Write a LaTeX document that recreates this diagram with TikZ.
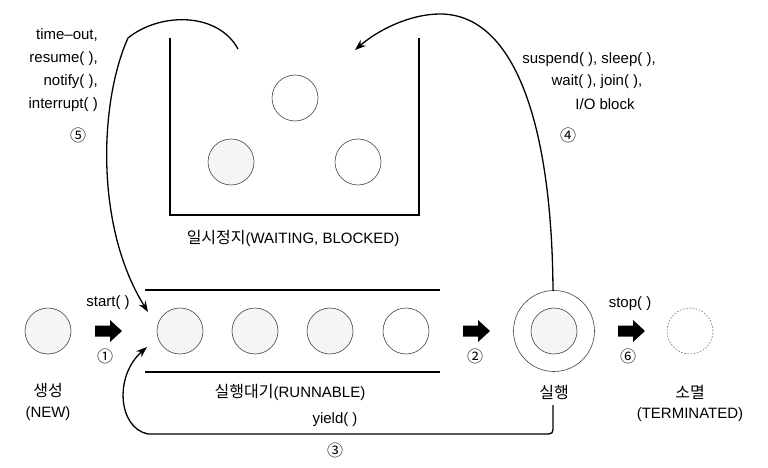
\documentclass[tikz,border=0pt]{standalone}
\usepackage{fontspec}
\setmainfont{Liberation Sans}
\newfontfamily\kr{Noto Sans CJK KR}
\usetikzlibrary{arrows.meta}
\newcommand\blockarr[2]{\fill[black] (#1) ++(-13,-5.5) -- ++(15,0) -- ++(0,-5.5) -- ++(12,11) -- ++(-12,11) -- ++(0,-5.5) -- ++(-15,0) -- cycle; \coordinate (#2) at (#1);}
\begin{document}
\begin{tikzpicture}[x=1pt,y=-1pt,
  lat/.style={font=\fontsize{15}{23}\selectfont, inner sep=0pt},
  kor/.style={font=\kr\fontsize{16}{23}\selectfont, inner sep=0pt},
  num/.style={font=\kr\fontsize{16}{18}\selectfont, inner sep=0pt},
  thr/.style={circle, draw=black!75, line width=0.6pt, minimum size=46pt, inner sep=0pt},
  shaded/.style={fill=black!4},
  flow/.style={line width=1.3pt, -{Stealth[length=11pt,width=8pt]}},
  wall/.style={line width=1.5pt},
  rail/.style={line width=1.8pt}]
\useasboundingbox (0,0) rectangle (768,468);
% waiting box
\coordinate (wtl) at (170,38);
\coordinate (wbl) at (170,215);
\coordinate (wbr) at (419,215);
\coordinate (wtr) at (419,38);
\draw[wall] (wtl) -- (wbl) -- (wbr) -- (wtr);
\node[thr] (w1) at (295,98) {};
\node[thr,shaded] (w2) at (231,162) {};
\node[thr] (w3) at (358,162) {};
\node[lat] (lwait) at (293,238) {{\kr\fontsize{16}{23}\selectfont 일시정지}(WAITING, BLOCKED)};
% runnable
\coordinate (rtl) at (145,290); \coordinate (rtr) at (440,290);
\coordinate (rbl) at (145,372); \coordinate (rbr) at (440,372);
\draw[rail] (rtl) -- (rtr);
\draw[rail] (rbl) -- (rbr);
\node[thr,shaded] (r1) at (180,331) {};
\node[thr,shaded] (r2) at (255,331) {};
\node[thr,shaded] (r3) at (330,331) {};
\node[thr] (r4) at (406,331) {};
\node[lat] (lrunnable) at (290,392) {{\kr\fontsize{16}{23}\selectfont 실행대기}(RUNNABLE)};
% new
\node[thr,shaded] (new) at (48,331) {};
\node[kor] (lnew) at (48,390) {생성};
\node[lat] (lnew2) at (48,414) {(NEW)};
% running
\node[thr,minimum size=81pt] (run) at (554,331) {};
\node[thr,shaded] (runin) at (554,331) {};
\node[kor] (lrun) at (554,392) {실행};
% terminated
\node[thr,draw=black!55,dash pattern=on 1.6pt off 1.6pt] (term) at (690,331) {};
\node[kor] (lterm) at (690,392) {소멸};
\node[lat] (lterm2) at (690,415) {(TERMINATED)};
% block arrows
\blockarr{108,331}{a1}
\blockarr{476,331}{a2}
\blockarr{631,331}{a6}
\node[lat] (tstart) at (108,303) {start( )};
\node[num] (n1) at (105,356) {①};
\node[num] (n2) at (475,356) {②};
\node[lat] (tstop) at (630,304) {stop( )};
\node[num] (n6) at (628,356) {⑥};
% yield loop
\coordinate (c3a) at (553,405);
\coordinate (c3b) at (147,347);
\draw[flow] (c3a) -- (553,425) .. controls (553,434) .. (544,434) -- (148,434) .. controls (118,428) and (114,376) .. (c3b);
\node[lat] (tyield) at (335,420) {yield( )};
\node[num] (n3) at (335,450) {③};
% curve 5
\coordinate (c5a) at (238,49);
\coordinate (c5b) at (148,312);
\draw[flow] (c5a) .. controls (218,12) and (160,12) .. (128,38) .. controls (100,100) and (94,225) .. (c5b);
\node[lat,align=right,anchor=east] (t5) at (98,70) {time–out,\\resume( ),\\notify( ),\\interrupt( )};
\node[num] (n5) at (78,135) {⑤};
% curve 4
\coordinate (c4a) at (553,291);
\coordinate (c4b) at (355,50);
\draw[flow] (c4a) .. controls (552,125) and (515,14) .. (440,14) .. controls (410,14) and (378,30) .. (c4b);
\node[lat] (t4a) at (589,60) {suspend( ), sleep( ),};
\node[lat] (t4b) at (597,82) {wait( ), join( ),};
\node[lat] (t4c) at (605,104) {I/O block};
\node[num] (n4) at (568,135) {④};
\end{tikzpicture}
\end{document}
